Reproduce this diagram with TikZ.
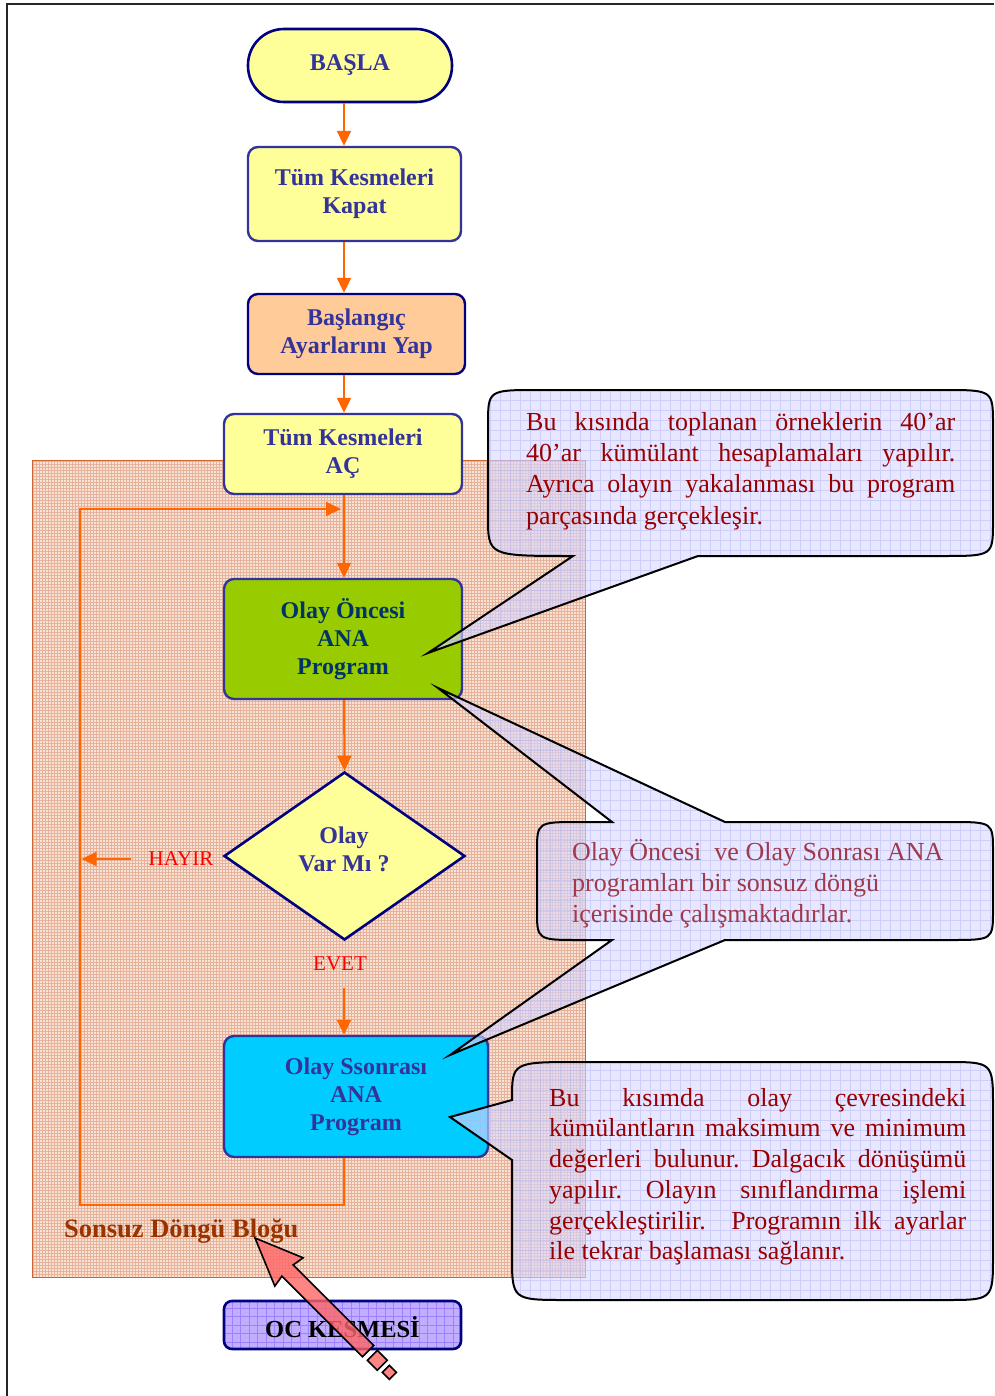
\documentclass[tikz,border=0pt]{standalone}
\usepackage{fontspec}
\setmainfont{Liberation Serif}
\usetikzlibrary{arrows.meta,shapes.geometric,calc}
\definecolor{flowc}{HTML}{FF6600}
\definecolor{navyc}{HTML}{000080}
\definecolor{boxline}{HTML}{333399}
\definecolor{bluetext}{HTML}{333399}
\definecolor{darktext}{HTML}{003366}
\definecolor{ylw}{HTML}{FFFF99}
\definecolor{peach}{HTML}{FFCC99}
\definecolor{grn}{HTML}{99CC00}
\definecolor{cyn}{HTML}{00CCFF}
\definecolor{hatchfill}{HTML}{F8E2D6}
\definecolor{hatchgrid}{HTML}{E6B29A}
\definecolor{hatchline}{HTML}{CC6633}
\definecolor{callfill}{HTML}{D8D8FF}
\definecolor{callgrid}{HTML}{B0B0F0}
\definecolor{calltext}{HTML}{990000}
\definecolor{calltextb}{HTML}{A03A4A}
\definecolor{lblbrown}{HTML}{993300}
\definecolor{ocfill}{HTML}{C2AEFF}
\definecolor{ocgrid}{HTML}{9F80FF}
\definecolor{redarr}{HTML}{FF6666}
\definecolor{labred}{HTML}{FF0000}
\frenchspacing
\begin{document}
\begin{tikzpicture}[x=1pt,y=-1pt,
  flow/.style={draw=flowc, line width=2pt, -{Triangle[length=15pt,width=14pt]}},
  fbox/.style={draw=boxline, line width=2.4pt, rounded corners=10pt, inner sep=0pt, align=center,
     font=\fontsize{24}{28}\selectfont\bfseries, text=bluetext},
  callout/.style={draw=black, line width=2pt, fill=callfill, fill opacity=0.6,
     path picture={\draw[callgrid, line width=0.5pt, draw opacity=0.45]
       (path picture bounding box.south west) grid[step=10pt] (path picture bounding box.north east);}},
  ctext/.style={inner sep=0pt, font=\fontsize{26}{31}\selectfont\frenchspacing, text=calltext},
  ctextb/.style={inner sep=0pt, font=\fontsize{26}{31}\selectfont\frenchspacing, text=calltextb},
  lbl/.style={inner sep=0pt, font=\fontsize{21}{25}\selectfont, text=labred}
]
\useasboundingbox (0,0) rectangle (994,1396);
\fill[white] (0,0) rectangle (994,1396);
% frame
\draw[black!85, line width=2.2pt] (994,4) -- (7,4) -- (7,1396);

% infinite loop block
\node[draw=hatchline, line width=1.4pt, fill=hatchfill, inner sep=0pt, anchor=north west,
  minimum width=553pt, minimum height=817pt,
  path picture={\draw[hatchgrid, line width=0.55pt]
       (path picture bounding box.south west) grid[step=3pt] (path picture bounding box.north east);}]
  (block) at (32,460) {};
\node[inner sep=0pt, anchor=west, font=\fontsize{26.5}{30}\selectfont\bfseries, text=lblbrown]
  (blocklabel) at (64,1231) {Sonsuz Döngü Bloğu};

% flowchart nodes
\node[fbox, draw=navyc, line width=2.6pt, fill=ylw, rounded corners=36pt,
  minimum width=204pt, minimum height=73pt] (basla) at (350,65.5) {BAŞLA};
\node[fbox, fill=ylw, minimum width=213pt, minimum height=94pt] (kapat) at (354.5,194) {Tüm Kesmeleri\\Kapat};
\node[fbox, draw=navyc, fill=peach, minimum width=217pt, minimum height=80pt] (ayar) at (356.5,334) {Başlangıç\\Ayarlarını Yap};
\node[fbox, fill=ylw, minimum width=238pt, minimum height=80pt] (ac) at (343,454) {Tüm Kesmeleri\\AÇ};
\node[fbox, fill=grn, text=darktext, minimum width=238pt, minimum height=120pt] (oncesi) at (343,639) {Olay Öncesi\\ANA\\Program};
\node[draw=navyc, line width=2.6pt, fill=ylw, shape=diamond, inner sep=0pt,
  minimum width=241pt, minimum height=168pt] (karar) at (344.5,856) {};
\node[inner sep=0pt, align=center, font=\fontsize{24}{28}\selectfont\bfseries, text=bluetext]
  (karartext) at (344,849) {Olay\\Var Mı ?};
\node[fbox, fill=cyn, minimum width=264pt, minimum height=121pt] (sonrasi) at (356,1096.5) {Olay Ssonrası\\ANA\\Program};
\node[fbox, draw=navyc, line width=2.6pt, fill=ocfill, text=black, rounded corners=8pt,
  minimum width=237pt, minimum height=48pt,
  path picture={\draw[ocgrid, line width=0.6pt]
       (path picture bounding box.south west) grid[step=8.5pt] (path picture bounding box.north east);}]
  (oc) at (342.5,1325) {};
\node[inner sep=0pt, font=\fontsize{24.5}{28}\selectfont\bfseries, text=black] (octext) at (342.5,1327) {OC KESMESİ};

% labels
\node[lbl] (hayir) at (181,859) {HAYIR};
\node[lbl] (evet) at (340,964) {EVET};

% connectors
\coordinate (spine) at (344,0);
\coordinate (loopBL) at (80,1205);
\coordinate (loopTL) at (80,509);
\coordinate (looptip) at (341,509);
\coordinate (hayirstart) at (131,859);
\coordinate (evetend) at (344,988);
\draw[flow] (basla.south -| spine) -- (kapat.north -| spine);
\draw[flow] (kapat.south -| spine) -- (ayar.north -| spine);
\draw[flow] (ayar.south -| spine) -- (ac.north -| spine);
\draw[flow] (ac.south -| spine) -- (oncesi.north -| spine);
\draw[flow] (oncesi.south -| spine) -- (karar.north);
\draw[flow] (evetend) -- (sonrasi.north -| spine);
\draw[flow] (sonrasi.south -| spine) |- (loopBL) -- (loopTL) -- (looptip);
\draw[flow, shorten >=1.5pt] (hayirstart) -- (hayirstart -| loopTL);

% callout 1
\path[callout] (698,556) -- (943,556) .. controls (993,556) .. (993,521) -- (993,425)
  .. controls (993,390) .. (943,390) -- (538,390) .. controls (488,390) .. (488,425)
  -- (488,516) .. controls (488,556) .. (573,556) -- (428,653) -- cycle;
\node[ctext, anchor=base west] (c1a) at (526,430) {\makebox[429pt][s]{Bu kısında toplanan örneklerin 40’ar}};
\node[ctext, anchor=base west] (c1b) at (526,461) {\makebox[429pt][s]{40’ar kümülant hesaplamaları yapılır.}};
\node[ctext, anchor=base west] (c1c) at (526,492) {\makebox[429pt][s]{Ayrıca olayın yakalanması bu program}};
\node[ctext, anchor=base west] (c1d) at (526,524) {parçasında gerçekleşir.};

% callout 2
\path[callout] (725,822) -- (950,822) .. controls (993,822) .. (993,852) -- (993,910)
  .. controls (993,940) .. (950,940) -- (725,940) -- (450,1055) -- (612,940) -- (580,940)
  .. controls (537,940) .. (537,910) -- (537,852) .. controls (537,822) .. (580,822)
  -- (612,822) -- (438,688) -- cycle;
\node[ctextb, anchor=base west] (c2a) at (572,860) {Olay Öncesi\ \ ve Olay Sonrası ANA};
\node[ctextb, anchor=base west] (c2b) at (572,891) {programları bir sonsuz döngü};
\node[ctextb, anchor=base west] (c2c) at (572,922) {içerisinde çalışmaktadırlar.};

% callout 3
\path[callout] (512,1160) -- (512,1255) .. controls (512,1300) .. (567,1300) -- (945,1300)
  .. controls (993,1300) .. (993,1255) -- (993,1107) .. controls (993,1062) .. (945,1062)
  -- (580,1062) .. controls (512,1062) .. (512,1100) -- (450,1117) -- cycle;
\node[ctext, anchor=base west] (c3a) at (549,1106) {\makebox[417pt][s]{Bu kısımda olay çevresindeki}};
\node[ctext, anchor=base west] (c3b) at (549,1136) {\makebox[417pt][s]{kümülantların maksimum ve minimum}};
\node[ctext, anchor=base west] (c3c) at (549,1167) {\makebox[417pt][s]{değerleri bulunur. Dalgacık dönüşümü}};
\node[ctext, anchor=base west] (c3d) at (549,1198) {\makebox[417pt][s]{yapılır. Olayın sınıflandırma işlemi}};
\node[ctext, anchor=base west] (c3e) at (549,1229) {\makebox[417pt][s]{gerçekleştirilir.\ \ Programın ilk ayarlar}};
\node[ctext, anchor=base west] (c3f) at (549,1259) {ile tekrar başlaması sağlanır.};

% red block arrow
\begin{scope}[shift={(255,1238)}, rotate=-45]
  \filldraw[draw=black, line width=1.6pt, fill=redarr, fill opacity=0.8]
    (0,0) -- (48,20) -- (46,8) -- (160,8) -- (160,-8) -- (46,-8) -- (48,-20) -- cycle;
  \filldraw[draw=black, line width=1.6pt, fill=redarr, fill opacity=0.8] (166,-7) rectangle (180,7);
  \filldraw[draw=black, line width=1.6pt, fill=redarr, fill opacity=0.8] (185,-5) rectangle (195,5);
\end{scope}
\end{tikzpicture}
\end{document}
